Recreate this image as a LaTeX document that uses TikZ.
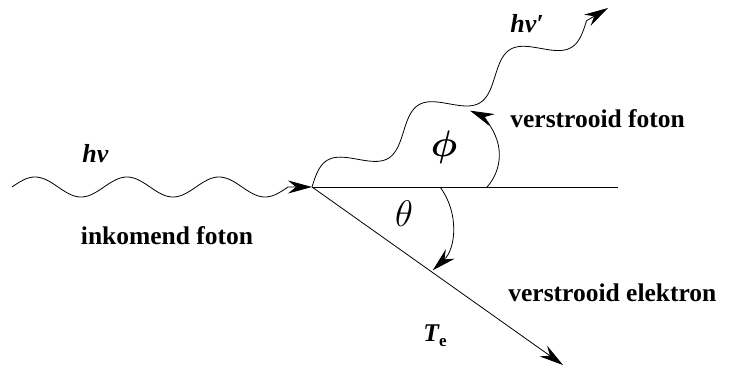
\RequirePackage{fix-cm}
\documentclass[tikz,border=0pt]{standalone}
\usepackage{amsmath,amssymb,bm}
\usepackage{fontspec}
\setmainfont{Liberation Serif}
\usepackage{tikz}
\usetikzlibrary{arrows.meta}

\begin{document}
\begin{tikzpicture}[x=1pt, y=1pt,
      line width=0.8pt,
      lbl/.style={font=\fontsize{25.5}{30}\selectfont\bfseries, inner sep=0pt},
      sym/.style={font=\fontsize{26}{30}\selectfont\bfseries\itshape, inner sep=0pt},
      ang/.style={font=\fontsize{37}{42}\selectfont, inner sep=0pt},
      >={Stealth[length=24pt, width=13pt, inset=8pt]}]
    \useasboundingbox (0,0) rectangle (729,372);

    \coordinate (src) at (12,185);
    \coordinate (hit) at (312,185);
    \coordinate (hend) at (618,185);
    \coordinate (outtip) at (608,364);
    \coordinate (etip) at (563,7);
    \coordinate (phi0) at (487,185);
    \coordinate (th0) at (440,185);

    \draw[->, shift={(src)}] plot[domain=0:276, samples=121, smooth]
      (\x, {10*sin(\x/92*360)}) -- (hit);
    \draw[->, shift={(hit)}, rotate=31.2] plot[domain=0:321, samples=121, smooth]
      (\x, {15*sin(\x/107*360)}) -- (outtip);
    \draw (hit) -- (hend);
    \draw[->] (hit) -- (etip);

    \draw[->] (phi0) arc[start angle=-42, end angle=67, radius=48];
    \draw[->] (th0) arc[start angle=37, end angle=-47, radius=62.5];

    \node[sym, anchor=base west] (hnu) at (82,209) {hν};
    \node[lbl, anchor=base] (inlbl) at (167,127) {inkomend foton};
    \node[sym, anchor=base west] (hnup) at (510,339) {hν′};
    \node[lbl, anchor=base west] (vfoton) at (510,244) {verstrooid foton};
    \node[lbl, anchor=base west] (velek) at (508,70) {verstrooid elektron};
    \node[ang] (phi) at (444,225) {$\bm{\phi}$};
    \node[ang] (theta) at (404,158) {$\theta$};
    \node[lbl, anchor=base] (te) at (435,30)
      {\itshape T\upshape\raisebox{-5pt}{\fontsize{17}{20}\selectfont e}};
  \end{tikzpicture}
\end{document}
